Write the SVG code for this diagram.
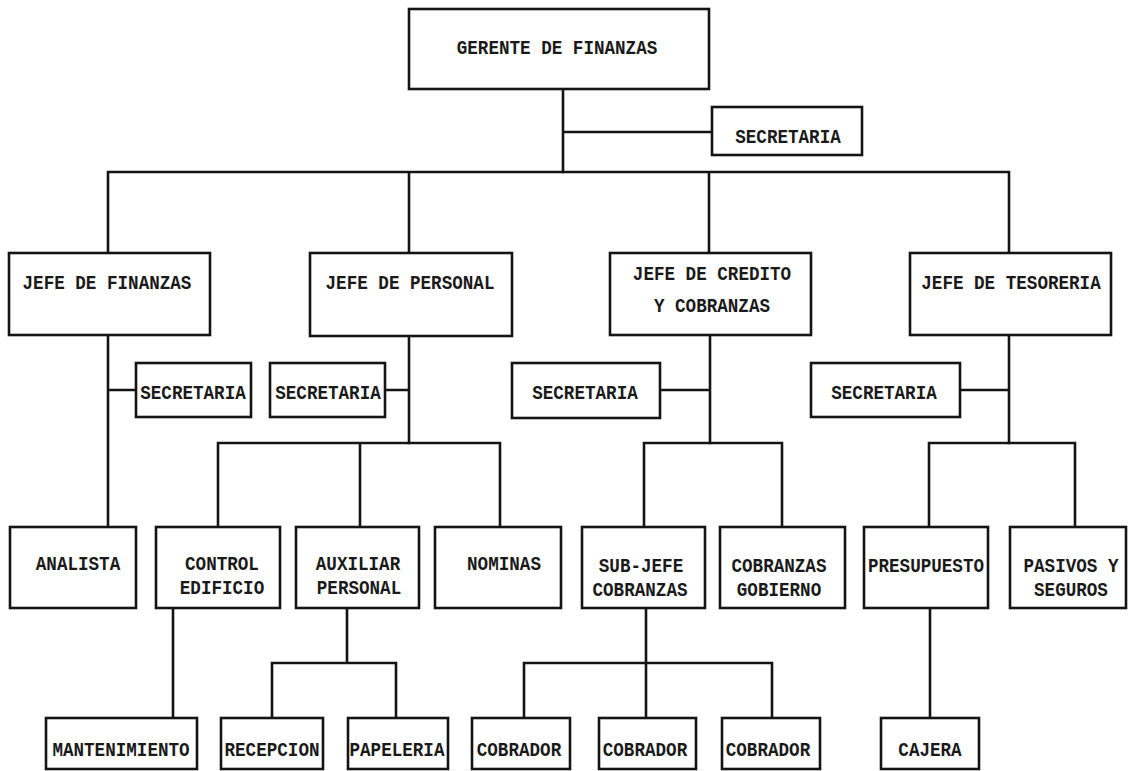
<svg xmlns="http://www.w3.org/2000/svg" width="1128" height="771" viewBox="0 0 1128 771">
  <style>
    .box { fill: #ffffff; stroke: #141414; stroke-width: 2.6; }
    .wire { fill: none; stroke: #141414; stroke-width: 2.6; stroke-linecap: square; }
    .lbl { font-family: "Liberation Mono", "Courier New", monospace; font-weight: bold; font-size: 17.6px; fill: #1a1a1a; text-anchor: middle;
           transform-box: fill-box; transform-origin: center; transform: scaleY(1.15); }
  </style>
  <rect width="1128" height="771" fill="#ffffff"/>

  <!-- connectors -->
  <g id="connectors" class="wire">
    <path d="M563,89 V172 M563,132 H712"/>
    <path d="M108,172 H1009 M108,172 V253 M409,172 V253 M709,172 V253 M1009,172 V253"/>
    <path d="M108,335 V527 M108,390 H136"/>
    <path d="M409,336 V443 M385,390 H409"/>
    <path d="M710,335 V443 M660,390 H710"/>
    <path d="M1009,335 V443 M960,390 H1009"/>
    <path d="M218,443 H500 M218,443 V527 M360,443 V527 M500,443 V527"/>
    <path d="M644,443 H782 M644,443 V527 M782,443 V527"/>
    <path d="M929,443 H1075 M929,443 V527 M1075,443 V527"/>
    <path d="M173,608 V718"/>
    <path d="M347,608 V663 M272,663 H396 M272,663 V718 M396,663 V718"/>
    <path d="M646,608 V718 M524,663 H772 M524,663 V718 M772,663 V718"/>
    <path d="M930,608 V718"/>
  </g>

  <g id="gerente-finanzas"><rect class="box" x="409" y="9" width="300" height="80"/><text class="lbl" x="557" y="53">GERENTE DE FINANZAS</text></g>
  <g id="secretaria-gerencia"><rect class="box" x="712" y="107" width="150" height="48"/><text class="lbl" x="788" y="142">SECRETARIA</text></g>

  <g id="jefe-finanzas"><rect class="box" x="9" y="253" width="201" height="82"/><text class="lbl" x="107" y="288">JEFE DE FINANZAS</text></g>
  <g id="jefe-personal"><rect class="box" x="310" y="253" width="202" height="83"/><text class="lbl" x="410" y="288">JEFE DE PERSONAL</text></g>
  <g id="jefe-credito"><rect class="box" x="610" y="253" width="201" height="82"/><text class="lbl" x="712" y="279">JEFE DE CREDITO</text><text class="lbl" x="712" y="311">Y COBRANZAS</text></g>
  <g id="jefe-tesoreria"><rect class="box" x="910" y="253" width="201" height="82"/><text class="lbl" x="1011" y="288">JEFE DE TESORERIA</text></g>

  <g id="secretaria-finanzas"><rect class="box" x="136" y="363" width="115" height="54"/><text class="lbl" x="193" y="398">SECRETARIA</text></g>
  <g id="secretaria-personal"><rect class="box" x="270" y="363" width="115" height="54"/><text class="lbl" x="328" y="398">SECRETARIA</text></g>
  <g id="secretaria-credito"><rect class="box" x="512" y="363" width="148" height="55"/><text class="lbl" x="585" y="398">SECRETARIA</text></g>
  <g id="secretaria-tesoreria"><rect class="box" x="811" y="363" width="149" height="54"/><text class="lbl" x="884" y="398">SECRETARIA</text></g>

  <g id="analista"><rect class="box" x="10" y="527" width="126" height="81"/><text class="lbl" x="78" y="569">ANALISTA</text></g>
  <g id="control-edificio"><rect class="box" x="156" y="527" width="124" height="81"/><text class="lbl" x="222" y="569">CONTROL</text><text class="lbl" x="222" y="593">EDIFICIO</text></g>
  <g id="auxiliar-personal"><rect class="box" x="296" y="527" width="123" height="81"/><text class="lbl" x="358" y="569">AUXILIAR</text><text class="lbl" x="359" y="593">PERSONAL</text></g>
  <g id="nominas"><rect class="box" x="435" y="527" width="126" height="81"/><text class="lbl" x="504" y="569">NOMINAS</text></g>
  <g id="subjefe-cobranzas"><rect class="box" x="582" y="527" width="123" height="81"/><text class="lbl" x="641" y="571">SUB-JEFE</text><text class="lbl" x="640" y="595">COBRANZAS</text></g>
  <g id="cobranzas-gobierno"><rect class="box" x="720" y="527" width="125" height="81"/><text class="lbl" x="779" y="571">COBRANZAS</text><text class="lbl" x="779" y="595">GOBIERNO</text></g>
  <g id="presupuesto"><rect class="box" x="864" y="527" width="124" height="81"/><text class="lbl" x="926" y="571">PRESUPUESTO</text></g>
  <g id="pasivos-seguros"><rect class="box" x="1010" y="527" width="116" height="81"/><text class="lbl" x="1071" y="571">PASIVOS Y</text><text class="lbl" x="1071" y="595">SEGUROS</text></g>

  <g id="mantenimiento"><rect class="box" x="46" y="718" width="151" height="51"/><text class="lbl" x="121" y="755">MANTENIMIENTO</text></g>
  <g id="recepcion"><rect class="box" x="221" y="718" width="102" height="51"/><text class="lbl" x="272" y="755">RECEPCION</text></g>
  <g id="papeleria"><rect class="box" x="348" y="718" width="100" height="51"/><text class="lbl" x="397" y="755">PAPELERIA</text></g>
  <g id="cobrador-1"><rect class="box" x="472" y="718" width="98" height="51"/><text class="lbl" x="519" y="755">COBRADOR</text></g>
  <g id="cobrador-2"><rect class="box" x="599" y="718" width="97" height="51"/><text class="lbl" x="645" y="755">COBRADOR</text></g>
  <g id="cobrador-3"><rect class="box" x="722" y="718" width="98" height="51"/><text class="lbl" x="768" y="755">COBRADOR</text></g>
  <g id="cajera"><rect class="box" x="881" y="718" width="98" height="51"/><text class="lbl" x="930" y="755">CAJERA</text></g>
</svg>
